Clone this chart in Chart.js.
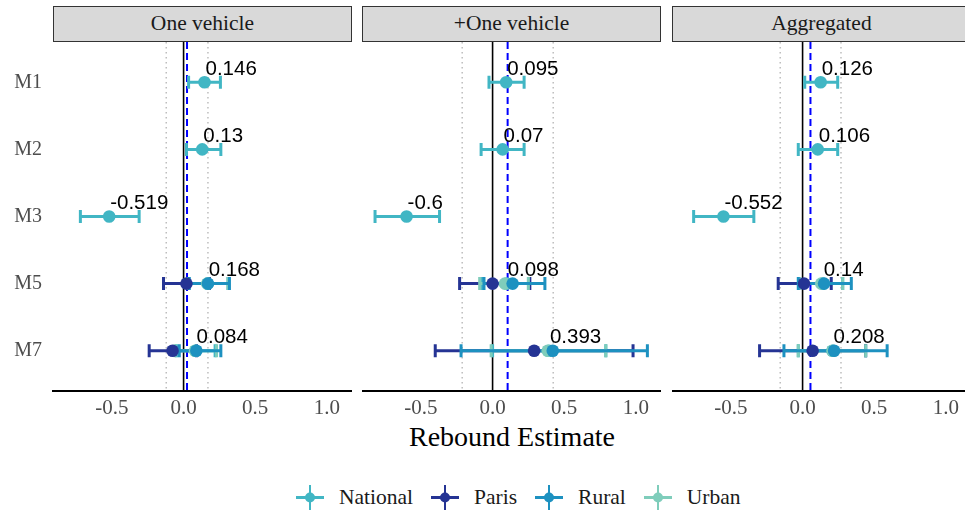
<!DOCTYPE html>
<html>
<head>
<meta charset="utf-8">
<script src="https://cdn.jsdelivr.net/npm/chart.js@4.4.1/dist/chart.umd.min.js"></script>
<style>
  html, body { margin: 0; padding: 0; background: #fff; overflow: hidden; }
  body { width: 965px; height: 516px; position: relative; font-family: "Liberation Serif", "Times New Roman", serif; }
  .strip { position: absolute; top: 6px; height: 36px; width: 299px; background: #d9d9d9; border: 1.5px solid #333;
           box-sizing: border-box; text-align: center; font-size: 21.5px; line-height: 32px; color: #1a1a1a; }
  .panel { position: absolute; top: 42px; }
  #xtitle { position: absolute; left: 53px; width: 918px; top: 421px; text-align: center; font-size: 28px; color: #000; }
  #legend { position: absolute; left: 296px; top: 485px; height: 25px; display: flex; align-items: center; font-size: 21.5px; color: #1a1a1a; }
  #legend .item { display: flex; align-items: center; margin-right: 18px; }
  #legend svg { margin-right: 15px; }
</style>
</head>
<body>
<div class="strip" style="left:53px" id="s0"></div>
<div class="strip" style="left:362px" id="s1"></div>
<div class="strip" style="left:672px" id="s2"></div>
<canvas class="panel" id="c0" width="352" height="379" style="left:0px"></canvas>
<canvas class="panel" id="c1" width="299" height="379" style="left:362px"></canvas>
<canvas class="panel" id="c2" width="299" height="379" style="left:672px"></canvas>
<div id="xtitle">Rebound Estimate</div>
<div id="legend"></div>
<script>
const models = ['M1', 'M2', 'M3', 'M5', 'M7'];
const panels = ['One vehicle', '+One vehicle', 'Aggregated'];
const groups = ['National', 'Paris', 'Rural', 'Urban'];
const groupColors = ['#41b6c4', '#253494', '#1d91c0', '#7fcdbb'];
const xTicks = [-0.5, 0, 0.5, 1.0];

// [estimate, lower, upper] per model; null = not estimated
const oneNational = [[0.146, 0.035, 0.257], [0.13, 0.02, 0.26], [-0.519, -0.72, -0.31], [0.168, 0.03, 0.31], [0.084, -0.05, 0.22]];
const oneParis    = [null, null, null, [0.02, -0.14, 0.18], [-0.077, -0.24, 0.09]];
const oneRural    = [null, null, null, [0.17, 0.04, 0.32], [0.089, -0.03, 0.26]];
const oneUrban    = [null, null, null, [0.165, 0.03, 0.31], [0.08, -0.06, 0.23]];

const plusNational = [[0.095, -0.025, 0.22], [0.07, -0.08, 0.22], [-0.6, -0.82, -0.37], [0.098, -0.07, 0.25], [0.393, 0.0, 0.79]];
const plusParis    = [null, null, null, [0.0, -0.23, 0.26], [0.29, -0.4, 0.98]];
const plusRural    = [null, null, null, [0.14, -0.06, 0.365], [0.42, -0.22, 1.08]];
const plusUrban    = [null, null, null, [0.086, -0.09, 0.25], [0.385, -0.01, 0.79]];

const aggNational = [[0.126, 0.015, 0.245], [0.106, -0.03, 0.245], [-0.552, -0.76, -0.34], [0.14, -0.02, 0.28], [0.208, -0.03, 0.44]];
const aggParis    = [null, null, null, [0.01, -0.17, 0.2], [0.07, -0.3, 0.44]];
const aggRural    = [null, null, null, [0.15, -0.03, 0.34], [0.22, -0.13, 0.59]];
const aggUrban    = [null, null, null, [0.13, -0.02, 0.28], [0.21, -0.03, 0.44]];

// reference lines per panel
const meanLine = [0.024, 0.105, 0.055];
const bandLow  = [-0.121, -0.212, -0.156];
const bandHigh = [0.170, 0.423, 0.268];

const panelData = [
  [oneNational, oneParis, oneRural, oneUrban],
  [plusNational, plusParis, plusRural, plusUrban],
  [aggNational, aggParis, aggRural, aggUrban]
];
const barOrder = [0, 1, 3, 2];      // error bars drawn in this order
const pointOrder = [4, 1, 2, 3];    // chart.js: higher order drawn first

const marks = {
  id: 'marks',
  beforeDatasetsDraw(chart, args, opts) {
    const { ctx, chartArea: a } = chart;
    const x = chart.scales.x, y = chart.scales.y;
    const p = opts.panel;
    const vline = (v) => {
      const px = x.getPixelForValue(v);
      ctx.beginPath(); ctx.moveTo(px, a.top); ctx.lineTo(px, a.bottom); ctx.stroke();
    };
    ctx.save();
    ctx.strokeStyle = '#bdbdbd'; ctx.lineWidth = 1.5; ctx.setLineDash([1.5, 3.5]);
    vline(bandLow[p]); vline(bandHigh[p]);
    ctx.setLineDash([]); ctx.strokeStyle = '#000'; ctx.lineWidth = 1.6;
    vline(0);
    ctx.setLineDash([7, 4]); ctx.strokeStyle = '#0000ff'; ctx.lineWidth = 2;
    vline(meanLine[p]);
    ctx.setLineDash([]);
    ctx.lineWidth = 3;
    barOrder.forEach(g => {
      ctx.strokeStyle = groupColors[g];
      panelData[p][g].forEach((d, i) => {
        if (!d) return;
        const py = y.getPixelForValue(i + 1);
        const x0 = x.getPixelForValue(d[1]), x1 = x.getPixelForValue(d[2]);
        ctx.beginPath();
        ctx.moveTo(x0, py); ctx.lineTo(x1, py);
        ctx.moveTo(x0, py - 6.5); ctx.lineTo(x0, py + 6.5);
        ctx.moveTo(x1, py - 6.5); ctx.lineTo(x1, py + 6.5);
        ctx.stroke();
      });
    });
    ctx.restore();
  },
  afterDatasetsDraw(chart, args, opts) {
    const { ctx } = chart;
    const x = chart.scales.x, y = chart.scales.y;
    ctx.save();
    ctx.fillStyle = '#000';
    ctx.font = '20.5px "Liberation Sans", Arial, sans-serif';
    ctx.textAlign = 'left';
    ctx.textBaseline = 'middle';
    panelData[opts.panel][0].forEach((d, i) => {
      if (!d) return;
      ctx.fillText(String(d[0]), x.getPixelForValue(d[0]) + 1, y.getPixelForValue(i + 1) - 13);
    });
    ctx.restore();
  }
};

function makePanel(p) {
  document.getElementById('s' + p).textContent = panels[p];
  const datasets = groups.map((g, gi) => ({
    label: g,
    data: panelData[p][gi].map((d, i) => d ? { x: d[0], y: i + 1 } : null).filter(Boolean),
    backgroundColor: groupColors[gi],
    borderWidth: 0,
    pointRadius: 6.3,
    pointHoverRadius: 6.3,
    order: pointOrder[gi]
  }));
  new Chart(document.getElementById('c' + p), {
    type: 'scatter',
    data: { datasets },
    plugins: [marks],
    options: {
      responsive: false,
      animation: false,
      devicePixelRatio: 1,
      events: [],
      layout: { padding: 0, autoPadding: false },
      plugins: { legend: { display: false }, tooltip: { enabled: false }, marks: { panel: p } },
      scales: {
        x: {
          type: 'linear', min: -0.911, max: 1.175,
          afterBuildTicks: s => { s.ticks = xTicks.map(v => ({ value: v })); },
          afterFit: s => { s.height = 30; },
          grid: { display: false, drawTicks: false },
          border: { display: true, color: '#000', width: 2 },
          ticks: { color: '#4d4d4d', padding: 5, font: { family: '"Liberation Serif", serif', size: 21 },
                   callback: v => v.toFixed(1) }
        },
        y: {
          type: 'linear', min: 0.4, max: 5.6, reverse: true,
          display: p === 0,
          afterBuildTicks: s => { s.ticks = models.map((m, i) => ({ value: i + 1 })); },
          afterFit: s => { s.width = p === 0 ? 53 : 0; s.paddingTop = 0; s.paddingBottom = 0; },
          grid: { display: false, drawTicks: false },
          border: { display: false },
          ticks: { color: '#4d4d4d', padding: 11, font: { family: '"Liberation Serif", serif', size: 20 },
                   callback: v => models[v - 1] }
        }
      }
    }
  });
}

panels.forEach((_, p) => makePanel(p));

const legend = document.getElementById('legend');
groups.forEach((g, gi) => {
  const c = groupColors[gi];
  const item = document.createElement('span');
  item.className = 'item';
  item.innerHTML = '<svg width="28" height="25"><line x1="0" y1="12.5" x2="28" y2="12.5" stroke="' + c + '" stroke-width="3"/>' +
    '<line x1="14" y1="0" x2="14" y2="25" stroke="' + c + '" stroke-width="2"/>' +
    '<circle cx="14" cy="12.5" r="5" fill="' + c + '"/></svg><span>' + g + '</span>';
  legend.appendChild(item);
});
</script>
</body>
</html>
